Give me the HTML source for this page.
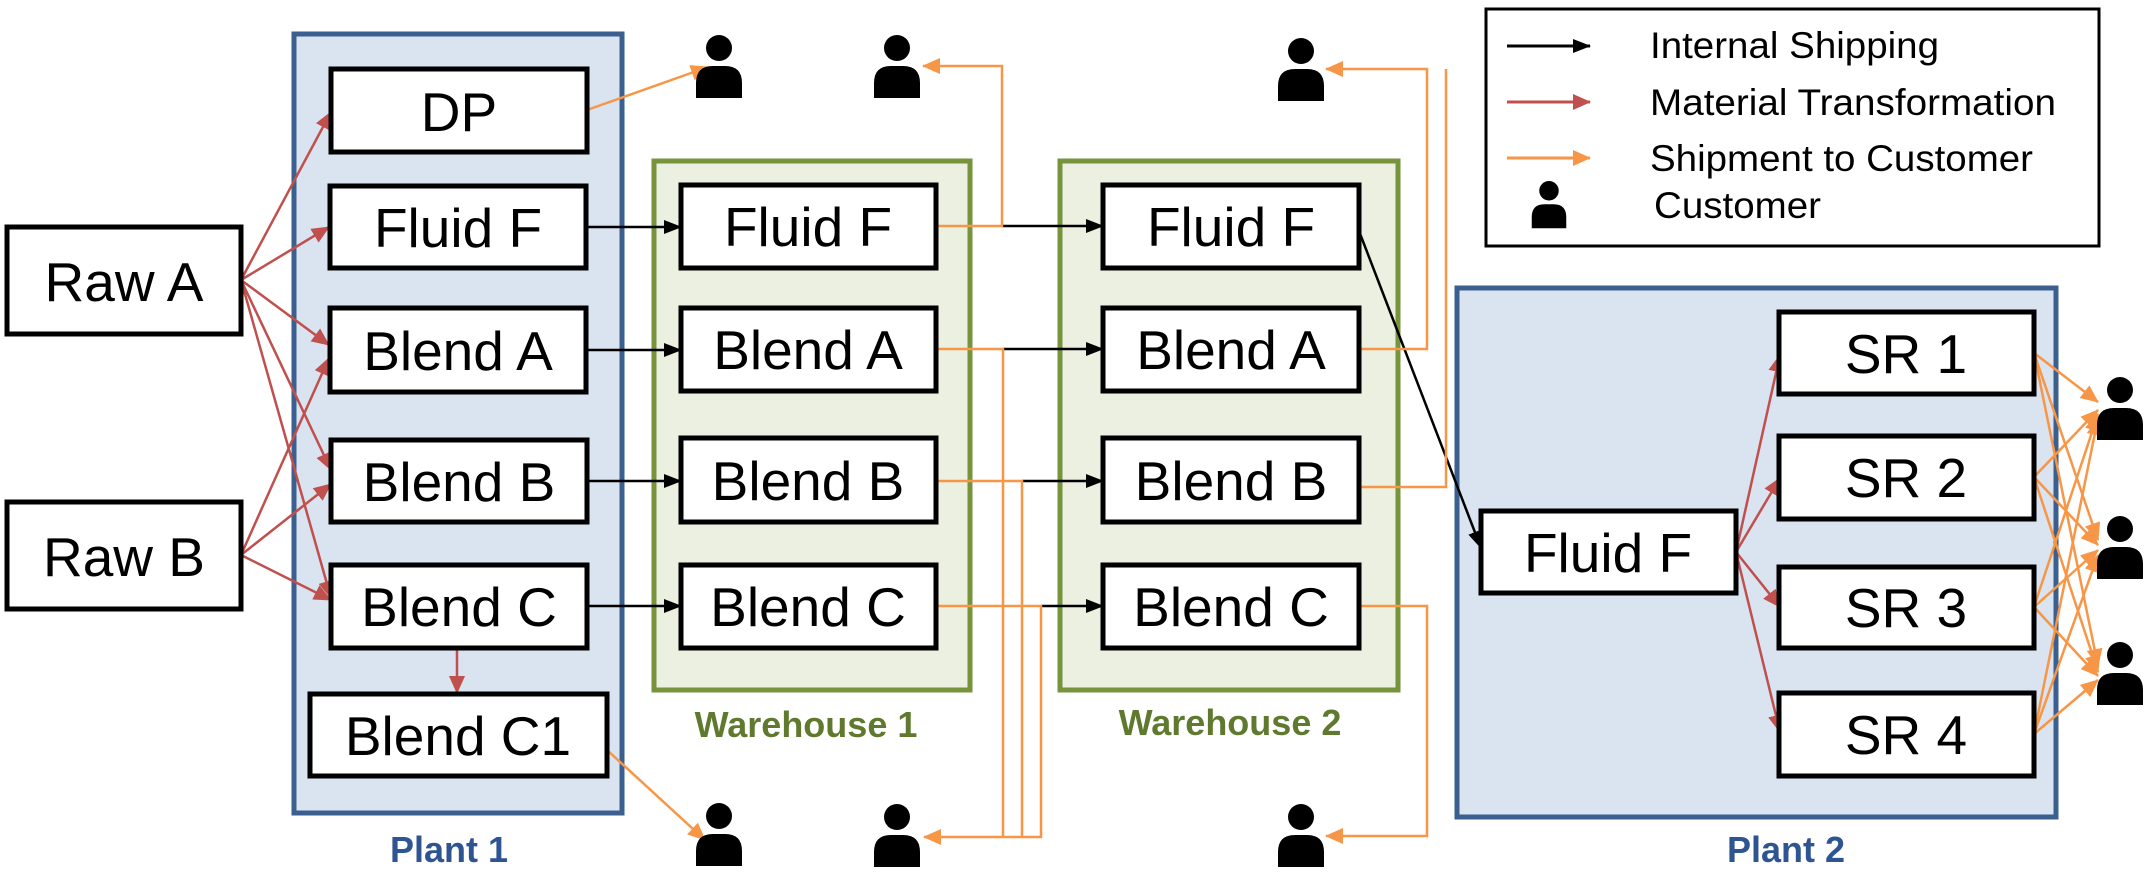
<!DOCTYPE html>
<html><head><meta charset="utf-8"><style>
html,body{margin:0;padding:0;background:#fff;}
svg{display:block;}
text{font-family:"Liberation Sans",sans-serif;}
.n{font-size:55px;text-anchor:middle;dominant-baseline:central;}
.bx{fill:#fff;stroke:#000;stroke-width:5;}
.lg{font-size:37px;}
</style></head><body>
<svg width="2152" height="880" viewBox="0 0 2152 880" xmlns="http://www.w3.org/2000/svg">
<defs>
<marker id="mr" markerWidth="18" markerHeight="18" refX="17" refY="9" orient="auto" markerUnits="userSpaceOnUse" viewBox="0 0 18 18"><path d="M0,1 L18,9 L0,17z" fill="#c0504d"/></marker>
<marker id="mo" markerWidth="18" markerHeight="18" refX="17" refY="9" orient="auto" markerUnits="userSpaceOnUse" viewBox="0 0 18 18"><path d="M0,1 L18,9 L0,17z" fill="#f79646"/></marker>
<marker id="mb" markerWidth="18" markerHeight="18" refX="17" refY="9" orient="auto" markerUnits="userSpaceOnUse" viewBox="0 0 18 18"><path d="M0,2 L18,9 L0,16z" fill="#000"/></marker>
<g id="cu"><circle cx="0" cy="13" r="13" fill="#000"/><path d="M-23,63 L-23,48 Q-23,31 -6,31 L6,31 Q23,31 23,48 L23,63z" fill="#000"/></g>
</defs>

<rect x="294" y="34" width="328" height="779" fill="#dae3f0" stroke="#3b5f8f" stroke-width="5"/>
<rect x="654" y="161" width="316" height="529" fill="#ebf0e0" stroke="#77933c" stroke-width="5"/>
<rect x="1060" y="161" width="338" height="529" fill="#ebf0e0" stroke="#77933c" stroke-width="5"/>
<rect x="1457" y="288" width="599" height="529" fill="#dae3f0" stroke="#3b5f8f" stroke-width="5"/>

<text x="449" y="862" font-size="36" font-weight="bold" fill="#2e5591" text-anchor="middle">Plant 1</text>
<text x="806" y="737" font-size="36" font-weight="bold" fill="#5f7a2f" text-anchor="middle">Warehouse 1</text>
<text x="1230" y="735" font-size="36" font-weight="bold" fill="#5f7a2f" text-anchor="middle">Warehouse 2</text>
<text x="1786" y="862" font-size="36" font-weight="bold" fill="#2e5591" text-anchor="middle">Plant 2</text>

<g stroke="#c0504d" stroke-width="2.5" fill="none" marker-end="url(#mr)">
<line x1="241" y1="280" x2="331" y2="112"/>
<line x1="241" y1="280" x2="329" y2="227"/>
<line x1="241" y1="280" x2="329" y2="345"/>
<line x1="241" y1="280" x2="331" y2="470"/>
<line x1="241" y1="280" x2="331" y2="598"/>
<line x1="241" y1="555" x2="329" y2="358"/>
<line x1="241" y1="555" x2="331" y2="484"/>
<line x1="241" y1="555" x2="331" y2="600"/>
<line x1="457" y1="648" x2="457" y2="693"/>
<line x1="1736" y1="552" x2="1780" y2="355"/>
<line x1="1736" y1="552" x2="1780" y2="478"/>
<line x1="1736" y1="552" x2="1780" y2="607"/>
<line x1="1736" y1="552" x2="1780" y2="732"/>
</g>

<g stroke="#000" stroke-width="2.5" fill="none" marker-end="url(#mb)">
<line x1="587" y1="227" x2="681" y2="227"/>
<line x1="587" y1="350" x2="681" y2="350"/>
<line x1="587" y1="481" x2="681" y2="481"/>
<line x1="587" y1="606" x2="681" y2="606"/>
<line x1="1002" y1="226" x2="1103" y2="226"/>
<line x1="1003" y1="349" x2="1103" y2="349"/>
<line x1="1022" y1="481" x2="1103" y2="481"/>
<line x1="1041" y1="606" x2="1103" y2="606"/>
<line x1="1359" y1="231" x2="1481" y2="548"/>
</g>

<g stroke="#f79646" stroke-width="2.5" fill="none">
<line x1="587" y1="110" x2="708" y2="67" marker-end="url(#mo)"/>
<line x1="607" y1="750" x2="705" y2="840" marker-end="url(#mo)"/>
<polyline points="936,226 1002,226 1002,66 923,66" marker-end="url(#mo)"/>
<polyline points="936,349 1003,349 1003,837"/>
<polyline points="936,481 1022,481 1022,837"/>
<polyline points="936,606 1041,606 1041,837 924,837" marker-end="url(#mo)"/>
<polyline points="1359,349 1427,349 1427,69 1326,69" marker-end="url(#mo)"/>
<polyline points="1359,487 1446,487 1446,69"/>
<polyline points="1359,606 1427,606 1427,836 1326,836" marker-end="url(#mo)"/>
<g marker-end="url(#mo)">
<line x1="2034" y1="353" x2="2098" y2="402"/>
<line x1="2034" y1="353" x2="2098" y2="540"/>
<line x1="2034" y1="353" x2="2098" y2="666"/>
<line x1="2034" y1="477" x2="2098" y2="410"/>
<line x1="2034" y1="477" x2="2098" y2="545"/>
<line x1="2034" y1="477" x2="2098" y2="672"/>
<line x1="2034" y1="607" x2="2098" y2="414"/>
<line x1="2034" y1="607" x2="2098" y2="550"/>
<line x1="2034" y1="607" x2="2098" y2="676"/>
<line x1="2034" y1="734" x2="2098" y2="418"/>
<line x1="2034" y1="734" x2="2098" y2="555"/>
<line x1="2034" y1="734" x2="2098" y2="680"/>
</g>
</g>

<rect class="bx" x="7" y="227" width="234" height="107"/><text class="n" x="124" y="282">Raw A</text>
<rect class="bx" x="7" y="502" width="234" height="107"/><text class="n" x="124" y="557">Raw B</text>

<rect class="bx" x="331" y="69" width="256" height="83"/><text class="n" x="459" y="112">DP</text>
<rect class="bx" x="330" y="186" width="256" height="82"/><text class="n" x="458" y="228">Fluid F</text>
<rect class="bx" x="330" y="308" width="256" height="84"/><text class="n" x="458" y="351">Blend A</text>
<rect class="bx" x="331" y="440" width="256" height="82"/><text class="n" x="459" y="482">Blend B</text>
<rect class="bx" x="331" y="565" width="256" height="83"/><text class="n" x="459" y="607">Blend C</text>
<rect class="bx" x="310" y="694" width="297" height="82"/><text class="n" x="458" y="736">Blend C1</text>

<rect class="bx" x="681" y="185" width="255" height="83"/><text class="n" x="808" y="227">Fluid F</text>
<rect class="bx" x="681" y="308" width="255" height="83"/><text class="n" x="808" y="350">Blend A</text>
<rect class="bx" x="681" y="438" width="255" height="84"/><text class="n" x="808" y="481">Blend B</text>
<rect class="bx" x="681" y="565" width="255" height="83"/><text class="n" x="808" y="607">Blend C</text>

<rect class="bx" x="1103" y="185" width="256" height="83"/><text class="n" x="1231" y="227">Fluid F</text>
<rect class="bx" x="1103" y="308" width="256" height="83"/><text class="n" x="1231" y="350">Blend A</text>
<rect class="bx" x="1103" y="438" width="256" height="84"/><text class="n" x="1231" y="481">Blend B</text>
<rect class="bx" x="1103" y="565" width="256" height="83"/><text class="n" x="1231" y="607">Blend C</text>

<rect class="bx" x="1481" y="511" width="255" height="82"/><text class="n" x="1608" y="553">Fluid F</text>
<rect class="bx" x="1779" y="312" width="255" height="82"/><text class="n" x="1906" y="354">SR 1</text>
<rect class="bx" x="1779" y="436" width="255" height="83"/><text class="n" x="1906" y="478">SR 2</text>
<rect class="bx" x="1779" y="567" width="255" height="81"/><text class="n" x="1906" y="608">SR 3</text>
<rect class="bx" x="1779" y="693" width="255" height="83"/><text class="n" x="1906" y="735">SR 4</text>

<use href="#cu" x="719" y="35"/>
<use href="#cu" x="897" y="35"/>
<use href="#cu" x="719" y="803"/>
<use href="#cu" x="897" y="804"/>
<use href="#cu" x="1301" y="38"/>
<use href="#cu" x="1301" y="804"/>
<use href="#cu" x="2120" y="377"/>
<use href="#cu" x="2120" y="516"/>
<use href="#cu" x="2120" y="642"/>

<rect x="1486" y="9" width="613" height="237" fill="#fff" stroke="#000" stroke-width="3"/>
<line x1="1507" y1="46" x2="1590" y2="46" stroke="#000" stroke-width="3" marker-end="url(#mb)"/>
<line x1="1507" y1="102" x2="1590" y2="102" stroke="#c0504d" stroke-width="3" marker-end="url(#mr)"/>
<line x1="1507" y1="158" x2="1590" y2="158" stroke="#f79646" stroke-width="3" marker-end="url(#mo)"/>
<g transform="translate(1549,181) scale(0.75)"><use href="#cu"/></g>
<text class="lg" x="1650" y="58" textLength="289" lengthAdjust="spacingAndGlyphs">Internal Shipping</text>
<text class="lg" x="1650" y="115" textLength="406" lengthAdjust="spacingAndGlyphs">Material Transformation</text>
<text class="lg" x="1650" y="171" textLength="383" lengthAdjust="spacingAndGlyphs">Shipment to Customer</text>
<text class="lg" x="1654" y="218" textLength="167" lengthAdjust="spacingAndGlyphs">Customer</text>
</svg>
</body></html>
